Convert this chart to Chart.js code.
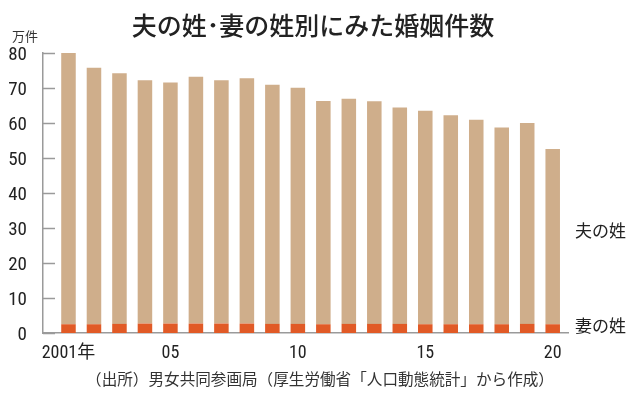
<!DOCTYPE html>
<html>
<head>
<meta charset="utf-8">
<script src="https://cdn.jsdelivr.net/npm/chart.js@4/dist/chart.umd.min.js"></script>
<style>
  html, body { margin: 0; padding: 0; background: #ffffff; }
  #wrap { width: 638px; height: 396px; position: relative; }
</style>
</head>
<body>
<div id="wrap"><canvas id="c" width="638" height="396"></canvas></div>
<script>
// ---- data (万件) ----
const years = [2001, 2002, 2003, 2004, 2005, 2006, 2007, 2008, 2009, 2010,
               2011, 2012, 2013, 2014, 2015, 2016, 2017, 2018, 2019, 2020];
const wifeSurname = [2.5, 2.5, 2.6, 2.7, 2.7, 2.7, 2.7, 2.7, 2.6, 2.6,
                     2.5, 2.6, 2.6, 2.6, 2.5, 2.5, 2.5, 2.5, 2.6, 2.5];
const husbandSurname = [77.5, 73.3, 71.6, 69.5, 68.9, 70.5, 69.5, 70.1, 68.3, 67.5,
                        63.8, 64.3, 63.6, 61.8, 61.0, 59.7, 58.4, 56.2, 57.4, 50.1];
const xTickYears = [2001, 2005, 2010, 2015, 2020];
const xTickLabels = ['2001年', '05', '10', '15', '20'];
const yTicks = [0, 10, 20, 30, 40, 50, 60, 70, 80];
const seriesNames = ['夫の姓', '妻の姓'];
const titleText = '夫の姓･妻の姓別にみた婚姻件数';
const unitText = '万件';
const sourceText = '（出所）男女共同参画局（厚生労働省「人口動態統計」から作成）';

const NUM_FONT = "'Roboto Condensed', 'Noto Sans CJK JP', sans-serif";
const JP_FONT = "'Noto Sans CJK JP', 'Noto Sans', sans-serif";
const TAN = '#cfae8b';
const ORANGE = '#e15a26';
const AXIS = '#9a9a9a';
const TEXT = '#222222';

const decor = {
  id: 'decor',
  afterDraw(chart) {
    const ctx = chart.ctx;
    const ys = chart.scales.y;
    const area = chart.chartArea;
    ctx.save();
    // inward tick marks on the value axis
    ctx.strokeStyle = AXIS;
    ctx.lineWidth = 1.5;
    yTicks.forEach(v => {
      const py = Math.round(ys.getPixelForValue(v)) + 0.5;
      ctx.beginPath();
      ctx.moveTo(area.left, py);
      ctx.lineTo(area.left + 12, py);
      ctx.stroke();
    });
    // title
    ctx.fillStyle = TEXT;
    ctx.textBaseline = 'middle';
    ctx.textAlign = 'center';
    ctx.font = "500 25px " + JP_FONT;
    ctx.fillText(titleText, 313, 25);
    // unit
    ctx.textAlign = 'left';
    ctx.font = "13px " + JP_FONT;
    ctx.fillStyle = '#333333';
    ctx.fillText(unitText, 12, 36);
    // series labels at right
    ctx.font = "17px " + JP_FONT;
    ctx.fillStyle = TEXT;
    ctx.fillText(seriesNames[0], 575, 231);
    ctx.fillText(seriesNames[1], 575, 326);
    // source
    ctx.textAlign = 'center';
    ctx.font = "15.6px " + JP_FONT;
    ctx.fillStyle = '#333333';
    ctx.fillText(sourceText, 320, 379);
    ctx.restore();
  }
};

new Chart(document.getElementById('c'), {
  type: 'bar',
  data: {
    datasets: [
      {
        label: seriesNames[1],
        data: years.map((y, i) => ({ x: y, y: wifeSurname[i] })),
        backgroundColor: ORANGE,
        stack: 's',
        categoryPercentage: 1,
        barPercentage: 0.57,
        borderWidth: 0
      },
      {
        label: seriesNames[0],
        data: years.map((y, i) => ({ x: y, y: husbandSurname[i] })),
        backgroundColor: TAN,
        stack: 's',
        categoryPercentage: 1,
        barPercentage: 0.57,
        borderWidth: 0
      }
    ]
  },
  options: {
    responsive: false,
    animation: false,
    devicePixelRatio: 1,
    layout: { padding: { top: 53, right: 70, bottom: 0, left: 0 } },
    plugins: {
      legend: { display: false },
      tooltip: { enabled: false },
      title: { display: false }
    },
    scales: {
      x: {
        type: 'linear',
        min: 2000,
        max: 2020.6,
        offset: false,
        grid: { display: false },
        border: { display: true, color: AXIS, width: 1.5 },
        afterBuildTicks(scale) {
          scale.ticks = xTickYears.map(v => ({ value: v }));
        },
        afterFit(scale) { scale.height = 63; },
        ticks: {
          autoSkip: false,
          maxRotation: 0,
          padding: 2,
          color: TEXT,
          font: { family: NUM_FONT, size: 18 },
          callback: (value) => {
            const k = xTickYears.indexOf(value);
            return k >= 0 ? xTickLabels[k] : '';
          }
        }
      },
      y: {
        stacked: true,
        min: 0,
        max: 80,
        grid: { display: false },
        border: { display: true, color: AXIS, width: 1.5 },
        afterBuildTicks(scale) {
          scale.ticks = yTicks.map(v => ({ value: v }));
        },
        afterFit(scale) { scale.width = 43; },
        ticks: {
          padding: 8,
          labelOffset: 2,
          color: TEXT,
          font: { family: NUM_FONT, size: 19 }
        }
      }
    }
  },
  plugins: [decor]
});
</script>
</body>
</html>
